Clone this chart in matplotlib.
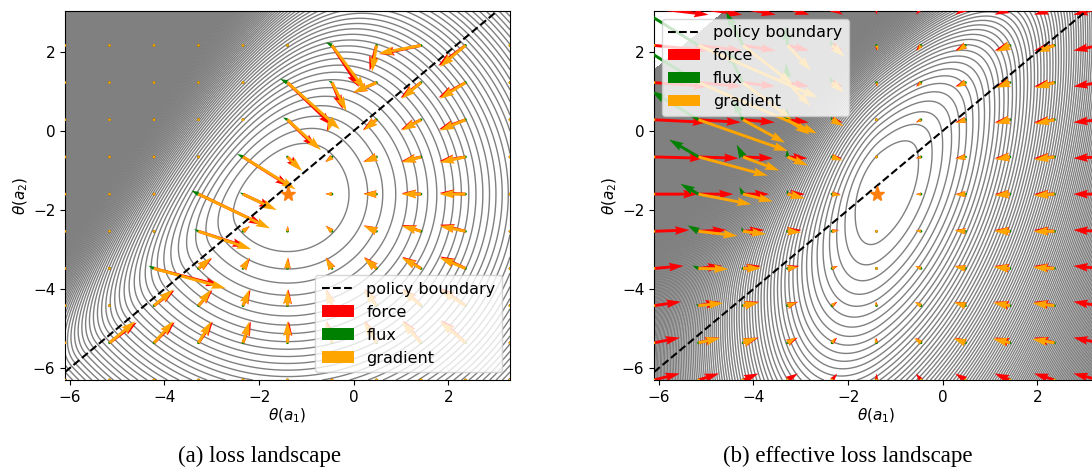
import numpy as np
import matplotlib.pyplot as plt

plt.rcParams['font.size'] = 11

# fixed point (star) and plotting window
star_x, star_y = -1.4, -1.6
x_min, x_max = -6.1, 3.3
y_min, y_max = -6.3, 3.03

# arrow grid, 11 x 11 including the edges
arrow_x = np.linspace(-6.1, 3.3, 11)
arrow_y = np.linspace(-6.3, 3.1, 11)

# (a) loss landscape: ring spacing, first ring, wall above the boundary
step_a = 1.18
first_a = 1.43
squash_a = 0.8                # weight of the theta(a2) direction
wall_a = (2.2, 1.0, 0.3)      # amplitude, steepness, decay along boundary
nlev_a = 320

# (b) effective loss landscape: ring centre and quadratic form
ring_b = (-1.3, -1.5)
quad_b = (0.115, -0.03, 0.034)    # xx, xy, yy
quart_b = 0.0004                  # extra steepening far from the centre
left_b = (0.05, 0.09)             # extra xx curvature on the left side
wall_b = (0.064, 1.0)
step_b = 0.024
first_b = 1.15
nlev_b = 270
blank_b = 5.4                     # beyond this distance from the boundary: empty

# arrow model parameters
pull_a = 0.145                # pull toward the star, (a)
push_a = (0.8, -0.4, -0.2)    # push across the boundary: d, const, s
cut_a = (-3.0, 1.67, -4.21)   # arrows vanish above y = c0 + c1 (x - c2)
force_x_b = 0.115
force_left_b = 0.13
force_y_b = 0.035
flux_b = (0.53, -3.98, 0.15, -1.9, 0.5)

sq2 = np.sqrt(2)


def sig(z):
    return 1 / (1 + np.exp(-z))


def landscape_a(x, y):
    dx, dy = x - star_x, y - star_y
    d = np.maximum((y - x) / sq2, 0)
    s = (dx + dy) / sq2
    amp, k, m = wall_a
    return dx**2 + squash_a * dy**2 + amp * (np.exp(k * d) - 1 - k * d) * np.exp(-m * s)


def landscape_b(x, y):
    dx, dy = x - ring_b[0], y - ring_b[1]
    axx = quad_b[0] + np.where(dx < 0, left_b[0] + left_b[1] * sig((y + 2) / 0.8), 0)
    d_raw = (y - x) / sq2
    d = np.maximum(d_raw, 0)
    amp, k = wall_b
    z = 0.5 * (axx * dx**2 + 2 * quad_b[1] * dx * dy + quad_b[2] * dy**2)
    z = z + quart_b * dx**4 + amp * (np.exp(k * d) - 1 - k * d)
    return np.where(d_raw > blank_b, np.nan, z)


X, Y = np.meshgrid(np.linspace(x_min, x_max, 800), np.linspace(y_min, y_max, 800))
gx, gy = np.meshgrid(arrow_x, arrow_y)
dxg, dyg = gx - star_x, gy - star_y
edge = np.zeros(gx.shape, bool)
edge[0, :] = edge[-1, :] = edge[:, 0] = edge[:, -1] = True

# arrows, panel (a)
dg = (gy - gx) / sq2
sg = (gx + gy) / sq2
push = np.where(dg > 0, push_a[0] * dg + push_a[1] + push_a[2] * sg, 0)
live = (gy <= cut_a[0] + cut_a[1] * (gx - cut_a[2])) & ~edge
grad_a_u = (-pull_a * dxg + push) * live
grad_a_v = (-pull_a * dyg - 0.7 * push) * live
flux_a_u = (-0.12 * push - 0.008 * dyg) * live
flux_a_v = (0.084 * push + 0.008 * dxg) * live
force_a_u = grad_a_u + flux_a_u
force_a_v = grad_a_v + flux_a_v

# arrows, panel (b)
cxg = np.where(dxg > 0, force_x_b, force_x_b + force_left_b * sig((gy + 2) / 0.8))
force_b_u = -cxg * dxg
force_b_v = -force_y_b * dyg
sy = np.minimum(np.exp(flux_b[4] * (gy + 0.61)), 2.5)
flux_b_u = (-flux_b[0] * np.maximum(-(gx - flux_b[1]), 0) * sy - 0.01 * dyg) * ~edge
flux_b_v = (flux_b[2] * np.maximum(-(gx - flux_b[3]), 0) * sy + 0.01 * dxg) * ~edge
grad_b_u = (force_b_u - flux_b_u) * ~edge
grad_b_v = (force_b_v - flux_b_v) * ~edge

fig = plt.figure(figsize=(10.92, 4.71), dpi=100)
ax1 = fig.add_axes([65 / 1092, 91 / 471, 445 / 1092, 369 / 471])
ax2 = fig.add_axes([654 / 1092, 91 / 471, 445 / 1092, 369 / 471])

panels = [
    (ax1, landscape_a, step_a, first_a, nlev_a,
     (force_a_u, force_a_v), (flux_a_u, flux_a_v), (grad_a_u, grad_a_v), 'lower right'),
    (ax2, landscape_b, step_b, first_b, nlev_b,
     (force_b_u, force_b_v), (flux_b_u, flux_b_v), (grad_b_u, grad_b_v), 'upper left'),
]

for ax, fn, step, first, nlev, force, flux, grad, loc in panels:
    Z = fn(X, Y)
    levels = step * (np.arange(nlev) + first)
    ax.contour(X, Y, Z, levels=levels, colors='gray', linewidths=1.0, zorder=1)
    ax.contourf(X, Y, Z, levels=[levels[-1], np.nanmax(Z) + 1], colors='gray', zorder=1)
    bl, = ax.plot([x_min, x_max], [x_min, x_max], 'k--', lw=1.5, zorder=4,
                  label='policy boundary')
    kw = dict(angles='xy', scale_units='xy', scale=1, width=0.0065, zorder=3)
    q1 = ax.quiver(gx, gy, *force, color='red', label='force', **kw)
    q2 = ax.quiver(gx, gy, *flux, color='green', label='flux', **kw)
    q3 = ax.quiver(gx, gy, *grad, color='orange', label='gradient', **kw)
    ax.plot(star_x, star_y, marker='*', color='C1', markersize=11, zorder=5)
    ax.set_xlim(x_min, x_max)
    ax.set_ylim(y_min, y_max)
    ax.set_xlabel(r'$\theta(a_1)$', labelpad=1)
    ax.set_ylabel(r'$\theta(a_2)$', labelpad=2)
    leg = ax.legend(handles=[bl, q1, q2, q3], loc=loc, fontsize=11.5)
    leg.set_zorder(10)

fig.text(260 / 1092, 0.032, '(a) loss landscape', ha='center', va='center',
         family='Liberation Serif', fontsize=16.5)
fig.text(848 / 1092, 0.032, '(b) effective loss landscape', ha='center', va='center',
         family='Liberation Serif', fontsize=16.5)

fig.savefig('out.png', dpi=100)
